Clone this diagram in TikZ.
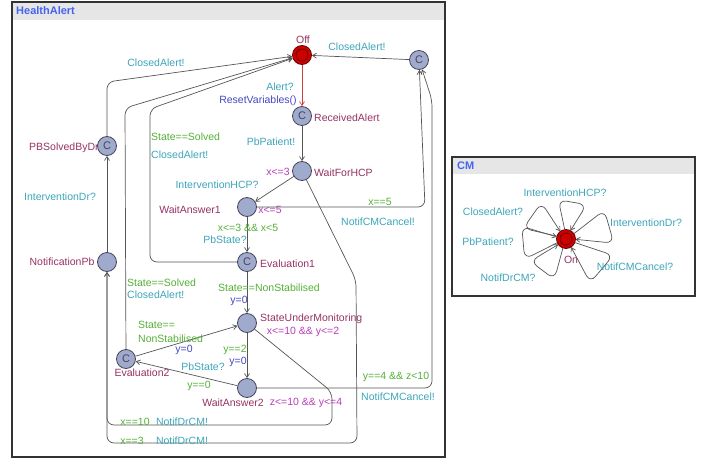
\documentclass[tikz,border=0pt]{standalone}
\usepackage{fontspec}
\setmainfont{Liberation Sans}
\usetikzlibrary{arrows.meta,calc}
\definecolor{namec}{RGB}{150,50,100}
\definecolor{invc}{RGB}{185,60,185}
\definecolor{sync}{RGB}{60,165,185}
\definecolor{guardc}{RGB}{85,175,55}
\definecolor{assignc}{RGB}{70,70,195}
\definecolor{locfill}{RGB}{160,170,205}
\definecolor{locdraw}{RGB}{70,70,90}
\definecolor{offfill}{RGB}{205,0,0}
\definecolor{offdraw}{RGB}{110,0,0}
\definecolor{edgec}{RGB}{85,85,85}
\definecolor{rededge}{RGB}{215,60,60}
\definecolor{headc}{RGB}{230,230,230}
\definecolor{titlec}{RGB}{70,100,240}
\begin{document}
\begin{tikzpicture}[x=1pt,y=-1pt,
 font=\fontsize{10.5}{11}\selectfont,
 lbl/.style={inner sep=0pt},
 nm/.style={lbl,text=namec},
 inv/.style={lbl,text=invc},
 syn/.style={lbl,text=sync},
 grd/.style={lbl,text=guardc},
 asg/.style={lbl,text=assignc},
 loc/.style={circle,draw=locdraw,fill=locfill,line width=0.8pt,minimum size=19pt,inner sep=0pt},
 comm/.style={loc,text=locdraw,font=\fontsize{11}{11}\selectfont},
 initloc/.style={circle,draw=offdraw,fill=offfill,line width=0.8pt,minimum size=19pt,inner sep=0pt},
 conn/.style={draw=edgec,line width=0.7pt,-{Straight Barb[length=4pt,width=5pt]},rounded corners=7pt},
 panel/.style={draw=black!80,line width=1.2pt},
 title/.style={anchor=west,inner sep=0pt,text=titlec,font=\bfseries\fontsize{11}{12}\selectfont}
 ]
\useasboundingbox (0,0) rectangle (703,460);
% panels
\fill[headc] (12,2) rectangle (445,20);
\draw[panel] (12,2) rectangle (445,457);
\node[title] (tHA) at (16,11) {HealthAlert};
\fill[headc] (452,157) rectangle (695,174);
\draw[panel] (452,157) rectangle (695,296);
\node[title] (tCM) at (457,166) {CM};

% location names (drawn before circles)
\node[nm] (nOff) at (303,40) {Off};
\node[nm,anchor=west] (nRecv) at (314,118) {ReceivedAlert};
\node[nm,anchor=west] (nWfh) at (314,173) {WaitForHCP};
\node[inv] (iWfh) at (278,172) {x<=3};
\node[nm] (nWa1) at (190,210) {WaitAnswer1};
\node[inv] (iWa1) at (270,210) {x<=5};
\node[nm,anchor=west] (nEv1) at (260,264) {Evaluation1};
\node[nm,anchor=west] (nSum) at (260,319) {StateUnderMonitoring};
\node[inv] (iSum) at (303,332) {x<=10 \&\& y<=2};
\node[nm] (nWa2) at (233,403) {WaitAnswer2};
\node[inv] (iWa2) at (306,403) {z<=10 \&\& y<=4};
\node[nm] (nEv2) at (142,373) {Evaluation2};
\node[nm] (nNp) at (62,262) {NotificationPb};
\node[nm,anchor=west] (nPbs) at (29,148) {PBSolvedByDr};
\node[nm] (nOn) at (571,260) {On};

% locations
\node[initloc] (off) at (302,55) {};
\draw[offdraw,line width=0.8pt] (off.center) circle (6pt);
\node[comm] (recv) at (302,116) {C};
\node[loc] (wfh) at (302,171) {};
\node[loc] (wa1) at (247,207) {};
\node[comm] (ev1) at (247,262) {C};
\node[loc] (sum) at (247,323) {};
\node[loc] (wa2) at (247,388) {};
\node[comm] (ev2) at (126,359) {C};
\node[loc] (np) at (107,262) {};
\node[comm] (pbs) at (107,146) {C};
\node[comm] (trc) at (419,60) {C};
\node[initloc] (on) at (566,239) {};
\draw[offdraw,line width=0.8pt] (on.center) circle (6pt);

% edges
\draw[conn,draw=rededge] (off) -- (recv);
\draw[conn] (recv) -- (wfh);
\draw[conn] (wfh) -- (wa1);
\draw[conn] (wa1) -- (ev1);
\draw[conn] (ev1) -- (sum);
\draw[conn] (sum) -- (wa2);
\draw[conn] (wa2) -- (ev2);
\draw[conn] (ev2) -- (sum);
\draw[conn] (np) -- (pbs);
\draw[conn] (trc) -- (off);
\draw[conn] (pbs) -- (107,82) -- (off);
\draw[conn] (ev2) -- (125,108) -- (off);
\draw[conn] (ev1) -- (150,262) -- (150,109) -- (off);
\draw[conn] (wa1) -- (425,207) -- (trc);
\draw[conn] (wa2) -- (432,388) -- (432,100) -- (trc);
\draw[conn] (wfh) -- (356,280) -- (357,443) -- (107,443) -- (np);
\draw[conn] (sum) -- (332,392) -- (332,425) -- (107,425) -- (np);

% CM self loops
\foreach \a/\r in {80/40,145/44,16/48,185/46,233/42,320/50} {
  \draw[conn,rounded corners=8pt] ($(on.center)+(\a+18:9.5pt)$) -- ($(on.center)+(\a+21:\r pt)$) -- ($(on.center)+(\a-21:\r pt)$) -- ($(on.center)+(\a-18:9.5pt)$);
}

% edge labels
\node[syn] (l1) at (280,87) {Alert?};
\node[asg] (l2) at (258,101) {ResetVariables()};
\node[syn] (l3) at (271,142) {PbPatient!};
\node[syn] (l4) at (217,185) {InterventionHCP?};
\node[grd] (l5) at (380,202) {x==5};
\node[syn] (l6) at (378,222) {NotifCMCancel!};
\node[grd] (l7) at (248,228) {x<=3 \&\& x<5};
\node[syn] (l8) at (225,240) {PbState?};
\node[grd,anchor=west] (l9) at (151,137) {State==Solved};
\node[syn,anchor=west] (l10) at (151,155) {ClosedAlert!};
\node[syn] (l11) at (357,47) {ClosedAlert!};
\node[syn] (l12) at (156,63) {ClosedAlert!};
\node[syn] (l13) at (60,197) {InterventionDr?};
\node[grd,anchor=west] (l14) at (127,283) {State==Solved};
\node[syn,anchor=west] (l15) at (127,295) {ClosedAlert!};
\node[grd] (l16) at (269,288) {State==NonStabilised};
\node[asg] (l17) at (239,301) {y=0};
\node[grd,anchor=west] (l18) at (138,325) {State==};
\node[grd,anchor=west] (l19) at (138,339) {NonStabilised};
\node[asg] (l20) at (184,350) {y=0};
\node[grd] (l21) at (235,350) {y==2};
\node[asg] (l22) at (238,362) {y=0};
\node[syn] (l23) at (203,367) {PbState?};
\node[grd] (l24) at (199,386) {y==0};
\node[grd] (l25) at (396,377) {y==4 \&\& z<10};
\node[syn] (l26) at (398,397) {NotifCMCancel!};
\node[grd] (l27) at (135,422) {x==10};
\node[syn] (l28) at (182,422) {NotifDrCM!};
\node[grd] (l29) at (132,441) {x==3};
\node[syn] (l30) at (182,441) {NotifDrCM!};
% CM labels
\node[syn] (c1) at (565,193) {InterventionHCP?};
\node[syn] (c2) at (493,212) {ClosedAlert?};
\node[syn] (c3) at (646,223) {InterventionDr?};
\node[syn] (c4) at (488,242) {PbPatient?};
\node[syn] (c5) at (508,278) {NotifDrCM?};
\node[syn] (c6) at (635,267) {NotifCMCancel?};
\end{tikzpicture}
\end{document}
